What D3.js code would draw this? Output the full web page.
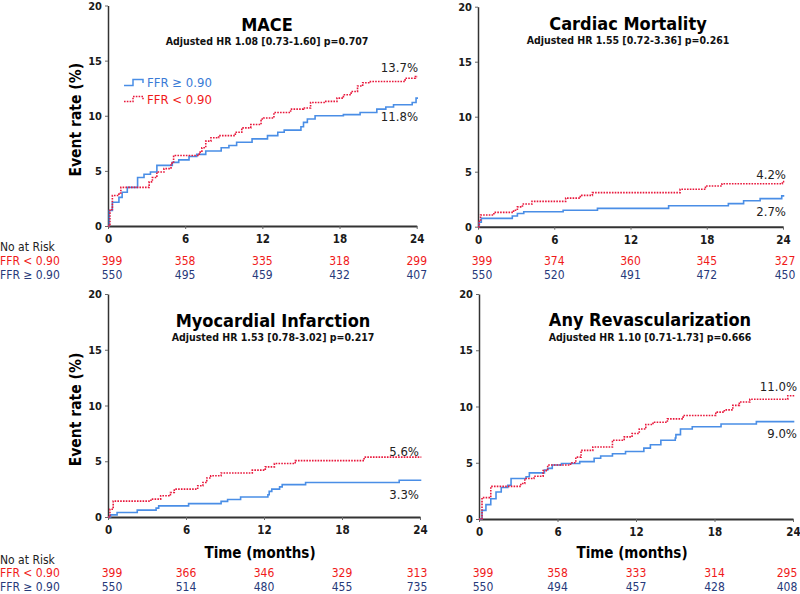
<!DOCTYPE html>
<html>
<head>
<meta charset="utf-8">
<script src="https://cdn.jsdelivr.net/npm/d3@7"></script>
<style>
html,body{margin:0;padding:0;background:#fff;}
svg{display:block;}
text{font-family:"DejaVu Sans Condensed","DejaVu Sans",sans-serif;}
</style>
</head>
<body>
<svg id="chart" width="800" height="594"></svg>
<script>
// ---------- DATA ----------
const xTicks = [0, 6, 12, 18, 24];
const yTicks = [0, 5, 10, 15, 20];
const groupHigh = "FFR \u2265 0.90";
const groupLow = "FFR < 0.90";

const titles = ["MACE", "Cardiac Mortality", "Myocardial Infarction", "Any Revascularization"];
const subtitles = [
  "Adjusted HR 1.08 [0.73-1.60] p=0.707",
  "Adjusted HR 1.55 [0.72-3.36] p=0.261",
  "Adjusted HR 1.53 [0.78-3.02] p=0.217",
  "Adjusted HR 1.10 [0.71-1.73] p=0.666"
];
const endLabelsLow = ["13.7%", "4.2%", "5.6%", "11.0%"];
const endLabelsHigh = ["11.8%", "2.7%", "3.3%", "9.0%"];

// [month, event rate %]
const maceHigh = [[0,0],[0.1,1.4],[0.34,2.16],[0.85,2.6],[1.1,3.06],[1.5,3.5],[2.3,4.4],[2.8,4.7],[3.3,4.9],[3.8,5.5],[5.0,5.77],[5.5,6.0],[6.3,6.3],[6.9,6.5],[7.6,6.8],[8.8,7.1],[9.4,7.3],[10.0,7.6],[11.2,7.9],[12.4,8.2],[13.2,8.5],[13.7,8.7],[15.0,9.0],[15.2,9.4],[15.5,9.7],[16.1,10.0],[18.3,10.1],[19.6,10.3],[20.9,10.6],[21.6,10.8],[22.2,11.0],[23.65,11.2],[23.95,11.6],[24.1,11.6]];
const maceLow = [[0,0],[0.15,1.5],[0.34,2.76],[0.85,3.0],[1.0,3.5],[3.2,4.0],[3.45,4.4],[3.8,4.9],[4.35,5.2],[4.9,5.7],[5.1,6.4],[7.1,6.7],[7.3,7.1],[7.6,7.7],[8.0,8.0],[8.6,8.2],[9.9,8.5],[10.4,8.9],[11.1,9.2],[11.9,9.7],[12.1,9.8],[12.9,10.3],[14.2,10.6],[15.2,10.7],[15.75,11.2],[16.8,11.3],[17.8,11.6],[18.3,11.9],[18.9,12.2],[19.4,12.7],[19.8,13.0],[20.4,13.1],[23.1,13.4],[23.9,13.55],[24.1,13.55]];

const cardiacHigh = [[0,0],[0.1,0.4],[0.26,0.76],[2.7,0.97],[3.1,1.2],[3.6,1.36],[6.7,1.5],[9.4,1.67],[15.0,1.9],[19.7,2.1],[20.9,2.36],[22.2,2.55],[23.9,2.8],[24.1,2.8]];
const cardiacLow = [[0,0],[0.1,0.5],[0.2,1.06],[1.25,1.3],[2.8,1.5],[3.1,1.8],[3.5,2.06],[4.25,2.3],[6.9,2.6],[8.05,2.85],[9.0,3.1],[15.9,3.4],[17.9,3.7],[19.2,3.9],[23.95,4.1],[24.1,4.1]];

const miHigh = [[0,0],[0.2,0.19],[0.7,0.4],[2.25,0.62],[3.7,0.8],[3.9,1.0],[6.2,1.2],[8.7,1.4],[9.2,1.57],[10.2,1.8],[12.3,2.0],[12.4,2.3],[12.6,2.5],[13.2,2.7],[13.4,2.9],[15.2,3.1],[22.4,3.3],[24.1,3.3]];
const miLow = [[0,0],[0.15,0.7],[0.4,1.42],[3.3,1.6],[4.05,1.9],[4.8,2.2],[5.1,2.5],[6.9,2.8],[7.3,3.1],[7.6,3.5],[7.9,3.7],[8.7,3.95],[11.1,4.2],[12.1,4.5],[12.8,4.8],[14.4,5.06],[19.7,5.37],[24.1,5.37]];

const revHigh = [[0,0],[0.23,0.77],[0.53,1.28],[0.9,1.8],[1.3,2.4],[1.7,2.8],[2.2,3.0],[2.45,3.6],[3.6,3.75],[3.85,4.1],[5.0,4.35],[5.25,4.5],[5.6,4.8],[6.3,4.94],[7.7,5.1],[8.8,5.4],[9.3,5.6],[10.2,5.8],[11.2,6.0],[12.6,6.3],[13.1,6.6],[13.9,7.0],[15.0,7.2],[15.05,7.5],[15.4,8.0],[16.3,8.2],[18.5,8.45],[21.2,8.66],[24.1,8.66]];
const revLow = [[0,0],[0.23,1.9],[0.9,2.9],[3.2,3.15],[3.5,3.6],[4.2,3.8],[4.9,4.3],[5.25,4.8],[7.0,5.0],[7.4,5.5],[7.8,6.1],[8.7,6.4],[10.2,7.0],[11.1,7.3],[11.7,7.6],[12.25,8.0],[12.75,8.4],[13.3,8.6],[14.4,8.9],[15.6,9.2],[18.1,9.5],[18.75,9.7],[19.4,10.1],[19.9,10.4],[20.7,10.65],[23.6,10.95],[24.1,10.95]];

const maceRiskLow = [399, 358, 335, 318, 299];
const maceRiskHigh = [550, 495, 459, 432, 407];
const cardiacRiskLow = [399, 374, 360, 345, 327];
const cardiacRiskHigh = [550, 520, 491, 472, 450];
const miRiskLow = [399, 366, 346, 329, 313];
const miRiskHigh = [550, 514, 480, 455, 735];
const revRiskLow = [399, 358, 333, 314, 295];
const revRiskHigh = [550, 494, 457, 428, 408];

// ---------- LAYOUT ----------
const BLUE = "#4a8ee6", RED = "#e8183c", RED_TXT = "#f01a1a", NAVY = "#27397a", DARK = "#1a1a1a";
const panels = [
  {x0:108, x1:416.7, y0:226, y1:5.5, high:maceHigh, low:maceLow, rLow:maceRiskLow, rHigh:maceRiskHigh, tx:267, ty:31, sy:45, ylab:true, xlab:false, legend:true, eLowY:72, eHighY:121, eX:418, riskY:[251,265,279], r24:0},
  {x0:478, x1:783, y0:226.7, y1:6.7, high:cardiacHigh, low:cardiacLow, rLow:cardiacRiskLow, rHigh:cardiacRiskHigh, tx:628, ty:30, sy:44, ylab:false, xlab:false, legend:false, eLowY:178.5, eHighY:216, eX:786, riskY:[251,265,279], r24:2},
  {x0:108, x1:420, y0:517, y1:294, high:miHigh, low:miLow, rLow:miRiskLow, rHigh:miRiskHigh, tx:273, ty:327, sy:341, ylab:true, xlab:true, legend:false, eLowY:455.5, eHighY:498.5, eX:419, riskY:[564,577,591], r24:-3},
  {x0:479, x1:793, y0:519, y1:294, high:revHigh, low:revLow, rLow:revRiskLow, rHigh:revRiskHigh, tx:650, ty:326, sy:340.5, ylab:false, xlab:true, legend:false, eLowY:391, eHighY:438, eX:797, riskY:[564,577,591], r24:-6}
];

const svg = d3.select("#chart");

panels.forEach((p, i) => {
  const x = d3.scaleLinear().domain([0, 24]).range([p.x0, p.x1]);
  const y = d3.scaleLinear().domain([0, 20]).range([p.y0, p.y1]);
  const g = svg.append("g");

  // y axis
  const ya = g.append("g").attr("transform", `translate(${p.x0},0)`)
    .call(d3.axisLeft(y).tickValues(yTicks).tickSize(3).tickSizeOuter(0).tickPadding(3));
  ya.select(".domain").attr("stroke", "#333").attr("stroke-width", 1.5);
  ya.selectAll(".tick line").attr("stroke", "#666");
  ya.selectAll("text").attr("font-size", 11).attr("font-weight", "bold").attr("fill", DARK)
    .style("font-family", '"DejaVu Sans Condensed","DejaVu Sans",sans-serif');

  // x axis
  const xa = g.append("g").attr("transform", `translate(0,${p.y0})`)
    .call(d3.axisBottom(x).tickValues(xTicks).tickSize(3).tickSizeOuter(0).tickPadding(6));
  xa.select(".domain").attr("stroke", "#333").attr("stroke-width", 2);
  xa.selectAll(".tick line").attr("stroke", "#666");
  xa.selectAll("text").attr("font-size", 11.5).attr("font-weight", "bold").attr("fill", DARK)
    .style("font-family", '"DejaVu Sans Condensed","DejaVu Sans",sans-serif');

  // curves
  const line = d3.line().x(d => x(d[0])).y(d => y(d[1])).curve(d3.curveStepAfter);
  g.append("path").datum(p.high).attr("d", line).attr("fill", "none")
    .attr("stroke", BLUE).attr("stroke-width", 1.6);
  g.append("path").datum(p.low).attr("d", line).attr("fill", "none")
    .attr("stroke", RED).attr("stroke-width", 1.6).attr("stroke-dasharray", "1.6,1.2");

  // titles
  g.append("text").attr("x", p.tx).attr("y", p.ty).attr("text-anchor", "middle")
    .attr("font-size", 18).attr("font-weight", "bold").attr("fill", "#000").text(titles[i]);
  g.append("text").attr("x", p.tx).attr("y", p.sy).attr("text-anchor", "middle")
    .attr("font-size", 10.5).attr("font-weight", "bold").attr("fill", "#111").text(subtitles[i]);

  // end labels
  g.append("text").attr("x", p.eX).attr("y", p.eLowY).attr("text-anchor", "end")
    .attr("font-size", 13).attr("fill", "#222").text(endLabelsLow[i]);
  g.append("text").attr("x", p.eX).attr("y", p.eHighY).attr("text-anchor", "end")
    .attr("font-size", 13).attr("fill", "#222").text(endLabelsHigh[i]);

  // axis titles
  if (p.ylab) {
    g.append("text").attr("transform", `translate(81,${(p.y0 + p.y1) / 2 + 4}) rotate(-90)`)
      .attr("text-anchor", "middle").attr("font-size", 15.5).attr("font-weight", "bold")
      .attr("fill", "#000").text("Event rate (%)");
  }
  if (p.xlab) {
    g.append("text").attr("x", (p.x0 + p.x1) / 2 - 4).attr("y", 558)
      .attr("text-anchor", "middle").attr("font-size", 15).attr("font-weight", "bold")
      .attr("fill", "#000").text("Time (months)");
  }

  // legend
  if (p.legend) {
    g.append("path").attr("d", "M124,85.5H133V79.5H143V83").attr("fill", "none")
      .attr("stroke", BLUE).attr("stroke-width", 1.5);
    g.append("text").attr("x", 147).attr("y", 87).attr("font-size", 13).attr("fill", "#3a7bd6").text(groupHigh);
    g.append("path").attr("d", "M124,101.5H133V96.5H143V100").attr("fill", "none")
      .attr("stroke", RED).attr("stroke-width", 1.5).attr("stroke-dasharray", "1.6,1.2");
    g.append("text").attr("x", 147).attr("y", 104).attr("font-size", 13).attr("fill", RED_TXT).text(groupLow);
  }

  // risk table
  if (i === 0 || i === 2) {
    g.append("text").attr("x", 0).attr("y", p.riskY[0]).attr("font-size", 12).attr("fill", "#222").text("No at Risk");
    g.append("text").attr("x", 0).attr("y", p.riskY[1]).attr("font-size", 12).attr("fill", RED_TXT).text(groupLow);
    g.append("text").attr("x", 0).attr("y", p.riskY[2]).attr("font-size", 12).attr("fill", NAVY).text(groupHigh);
  }
  const rx = (t) => x(t) + (t === 0 ? 4 : (t === 24 ? p.r24 : 0));
  g.selectAll(".rl").data(p.rLow).enter().append("text")
    .attr("x", (d, k) => rx(xTicks[k])).attr("y", p.riskY[1]).attr("text-anchor", "middle")
    .attr("font-size", 12).attr("fill", RED_TXT).text(d => d);
  g.selectAll(".rh").data(p.rHigh).enter().append("text")
    .attr("x", (d, k) => rx(xTicks[k])).attr("y", p.riskY[2]).attr("text-anchor", "middle")
    .attr("font-size", 12).attr("fill", NAVY).text(d => d);
});
</script>
</body>
</html>
